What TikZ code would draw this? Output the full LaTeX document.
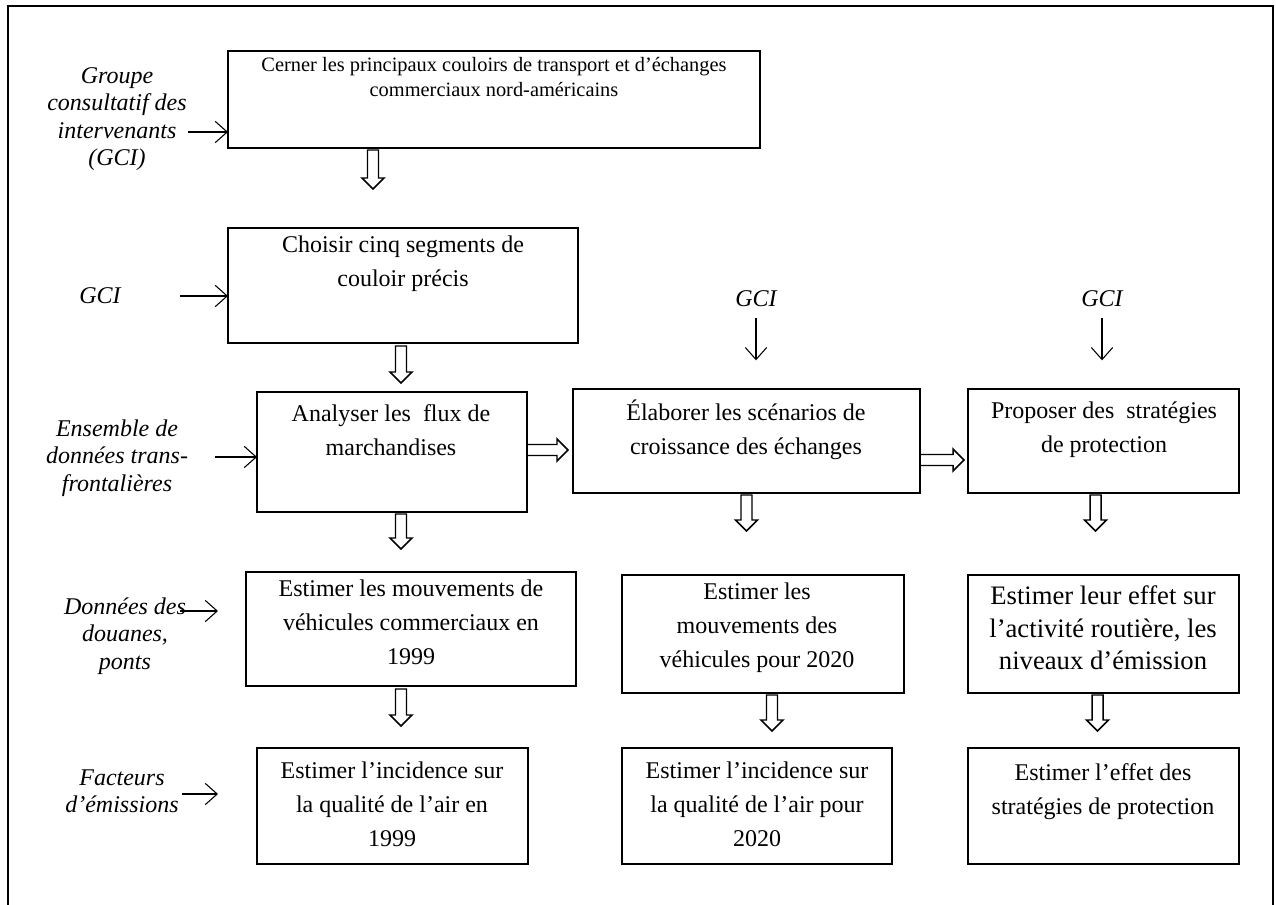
\documentclass[tikz,border=0pt]{standalone}
\usepackage{fontspec}
\setmainfont{Liberation Serif}
\usetikzlibrary{calc,arrows.meta,fit}
\newcommand\hdown[2]{\draw[harrow] ($(#1)+(-5.5,0)$) -- ++(0,#2-11) -- ++(-5.5,0) -- ++(11,11) -- ++(11,-11) -- ++(-5.5,0) -- ++(0,-#2+11) -- cycle;}
\newcommand\hright[2]{\draw[harrow] ($(#1)+(0,-5.5)$) -- ++(#2-11,0) -- ++(0,-5.5) -- ++(11,11) -- ++(-11,11) -- ++(0,-5.5) -- ++(-#2+11,0) -- cycle;}
\begin{document}
\begin{tikzpicture}[x=0.75pt,y=-0.75pt,
  box/.style={draw, line width=1.5pt, inner sep=0pt, outer sep=0pt},
  txt/.style={align=center, inner sep=0pt, font=\fontsize{18}{25.5}\selectfont},
  smalltxt/.style={align=center, inner sep=0pt, font=\fontsize{15.3}{18.75}\selectfont},
  bigtxt/.style={align=center, inner sep=0pt, font=\fontsize{20}{24.4}\selectfont},
  lab/.style={align=center, inner sep=0pt, font=\fontsize{18}{20.5}\selectfont\itshape},
  inarrow/.style={line width=0.8pt, -{Straight Barb[length=9pt,width=16pt]}},
  harrow/.style={line width=1.1pt, line join=miter},
]
\useasboundingbox (0,0) rectangle (1276,905);
\draw[line width=1.5pt] (8,905) -- (8,6) -- (1273,6) -- (1273,905);

% boxes
\node[box, fit={(228,51) (760,148)}] (b1) {};
\node[box, fit={(228,228) (578,343)}] (b2) {};
\node[box, fit={(257,392) (527,512)}] (b3) {};
\node[box, fit={(573,389) (920,493)}] (b4) {};
\node[box, fit={(968,389) (1239,493)}] (b5) {};
\node[box, fit={(246,572) (576,686)}] (b6) {};
\node[box, fit={(622,575) (904,693)}] (b7) {};
\node[box, fit={(968,575) (1239,693)}] (b8) {};
\node[box, fit={(257,748) (528,864)}] (b9) {};
\node[box, fit={(622,748) (892,864)}] (b10) {};
\node[box, fit={(968,748) (1239,864)}] (b11) {};

% box texts
\node[smalltxt] (t1) at (494,77) {Cerner les principaux couloirs de transport et d’échanges\\commerciaux nord-américains};
\node[txt] (t2) at (403,264) {Choisir cinq segments de\\couloir précis};
\node[txt] (t3) at (391,430) {Analyser les~ flux de\\marchandises};
\node[txt] (t4) at (746,430) {Élaborer les scénarios de\\croissance des échanges};
\node[txt] (t5) at (1104,430) {Proposer des~ stratégies\\de protection};
\node[txt] (t6) at (411,622) {Estimer les mouvements de\\véhicules commerciaux en\\1999};
\node[txt] (t7) at (757,628) {Estimer les\\mouvements des\\véhicules pour 2020};
\node[bigtxt] (t8) at (1103,628) {Estimer leur effet sur\\l’activité routière, les\\niveaux d’émission};
\node[txt] (t9) at (392,804) {Estimer l’incidence sur\\la qualité de l’air en\\1999};
\node[txt] (t10) at (757,804) {Estimer l’incidence sur\\la qualité de l’air pour\\2020};
\node[txt] (t11) at (1103,792) {Estimer l’effet des\\stratégies de protection};

% side labels
\node[lab] (l1) at (117,119) {Groupe\\consultatif des\\intervenants\\(GCI)};
\node[lab] (l2) at (100,296) {GCI};
\node[lab] (l3) at (117,458) {Ensemble de\\données trans-\\frontalières};
\node[lab] (l4) at (125,636) {Données des\\douanes,\\ponts};
\node[lab] (l5) at (122,791) {Facteurs\\d’émissions};
\node[lab] (g4) at (756,299) {GCI};
\node[lab] (g5) at (1102,299) {GCI};

% input arrows
\coordinate (a1) at (188,132);
\draw[inarrow] (a1) -- (a1 -| b1.west);
\coordinate (a2) at (180,296);
\draw[inarrow] (a2) -- (a2 -| b2.west);
\coordinate (a3) at (215,457);
\draw[inarrow] (a3) -- (a3 -| b3.west);
\coordinate (a4) at (180,611);
\draw[inarrow] (a4) -- ++(38,0);
\coordinate (a5) at (182,794);
\draw[inarrow] (a5) -- ++(36,0);
\draw[inarrow] (g4.south) ++(0,11) -- ++(0,42);
\draw[inarrow] (g5.south) ++(0,11) -- ++(0,42);

% hollow arrows
\coordinate (h1) at ($(b1.south)+(-121,2)$); \hdown{h1}{39}
\coordinate (h2) at ($(b2.south)+(-2,3)$); \hdown{h2}{37}
\coordinate (h3) at ($(b3.south)+(9,2)$); \hdown{h3}{35}
\coordinate (h4) at ($(b4.south)+(0,2)$); \hdown{h4}{36}
\coordinate (h5) at ($(b5.south)+(-8,2)$); \hdown{h5}{36}
\coordinate (h6) at ($(b6.south)+(-10,3)$); \hdown{h6}{37}
\coordinate (h7) at ($(b7.south)+(9,2)$); \hdown{h7}{36}
\coordinate (h8) at ($(b8.south)+(-6,2)$); \hdown{h8}{36}
\coordinate (r1) at (b3.east |- 0,450); \hright{r1}{41}
\coordinate (r2) at (b4.east |- 0,460); \hright{r2}{44}
\end{tikzpicture}
\end{document}
